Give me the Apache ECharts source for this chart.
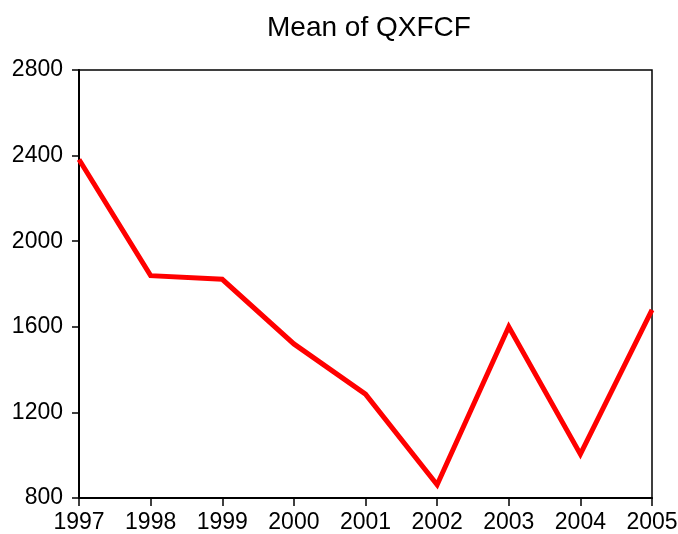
<!DOCTYPE html>
<html>
<head>
<meta charset="utf-8">
<script src="https://cdn.jsdelivr.net/npm/echarts@6/dist/echarts.min.js"></script>
<style>
  html, body { margin: 0; padding: 0; background: #fff; }
  #main { width: 678px; height: 534px; }
</style>
</head>
<body>
<div id="main"></div>
<script>
var years = ['1997', '1998', '1999', '2000', '2001', '2002', '2003', '2004', '2005'];
var meanQxfcf = [2382, 1839, 1822, 1520, 1285, 862, 1600, 1005, 1679];

var myChart = echarts.init(document.getElementById('main'));

var option = {
    backgroundColor: '#fff',
    animation: false,
    title: {
        text: 'Mean of QXFCF',
        left: 262,
        top: 9,
        textStyle: { fontFamily: 'Liberation Sans', fontSize: 28, fontWeight: 'normal', color: '#000' }
    },
    grid: {
        left: 79, right: 26, top: 70, bottom: 36,
        outerBoundsMode: 'none',
        show: true, borderColor: '#000', borderWidth: 1.5
    },
    xAxis: {
        type: 'category',
        data: years,
        boundaryGap: false,
        axisLine: { lineStyle: { color: '#000', width: 2 } },
        axisTick: { show: true, length: 8, lineStyle: { color: '#000', width: 1.5 } },
        axisLabel: {
            color: '#000', fontFamily: 'Liberation Sans', fontSize: 23, margin: 13,
            showMaxLabel: true, showMinLabel: true, interval: 0
        },
        splitLine: { show: false }
    },
    yAxis: {
        type: 'value',
        min: 800, max: 2800, interval: 400,
        axisLine: { show: true, lineStyle: { color: '#000', width: 2 } },
        axisTick: { show: true, length: 7, lineStyle: { color: '#000', width: 1.5 } },
        axisLabel: {
            color: '#000', fontFamily: 'Liberation Sans', fontSize: 23, margin: 16,
            formatter: function (v) { return String(v); }
        },
        splitLine: { show: false }
    },
    series: [{
        name: 'Mean of QXFCF',
        type: 'line',
        data: meanQxfcf,
        showSymbol: false,
        lineStyle: { color: '#ff0000', width: 5, join: 'miter' }
    }]
};

myChart.setOption(option);
</script>
</body>
</html>
